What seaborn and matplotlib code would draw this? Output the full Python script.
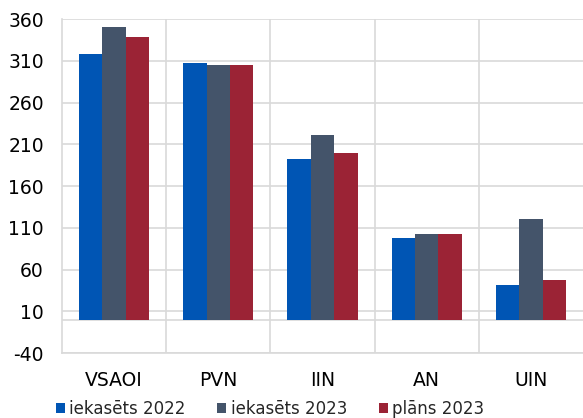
import pandas as pd
import matplotlib
matplotlib.use("Agg")
import matplotlib.pyplot as plt
import seaborn as sns
from matplotlib.ticker import FixedLocator

categories = ["VSAOI", "PVN", "IIN", "AN", "UIN"]
series = ["iekasēts 2022", "iekasēts 2023", "plāns 2023"]
vals_2022 = [318, 307, 192, 98, 42]
vals_2023 = [351, 305, 221, 103, 121]
plan_2023 = [338, 305, 200, 103, 47]
colors = ["#0055B4", "#44546A", "#9B2335"]
yticks = [-40, 10, 60, 110, 160, 210, 260, 310, 360]

df = pd.DataFrame({
    "cat": categories * 3,
    "series": [s for s in series for _ in categories],
    "value": vals_2022 + vals_2023 + plan_2023,
})

sns.set_theme(style="white")
plt.rcParams["font.family"] = ["DejaVu Sans"]
plt.rcParams["axes.unicode_minus"] = False

fig = plt.figure(figsize=(5.83, 4.18), dpi=100)
ax = fig.add_axes([0.1063, 0.1555, 0.8937, 0.799])

sns.barplot(data=df, x="cat", y="value", hue="series", palette=colors,
            width=0.675, gap=0, ax=ax, legend=True, saturation=1,
            edgecolor="none", linewidth=0)

ax.set_ylim(-40, 360)
ax.set_xlim(-0.5, 4.5)
ax.set_yticks(yticks)
ax.xaxis.set_minor_locator(FixedLocator([0.5, 1.5, 2.5, 3.5]))
ax.grid(axis="y", color="#D9D9D9", linewidth=1.2)
ax.grid(axis="x", which="minor", color="#D9D9D9", linewidth=1.2)
ax.axhline(0, color="#D9D9D9", linewidth=1.2, zorder=0.5)
ax.set_axisbelow(True)
for side in ["top", "right"]:
    ax.spines[side].set_visible(False)
for side in ["left", "bottom"]:
    ax.spines[side].set_color("#D9D9D9")
    ax.spines[side].set_linewidth(1.2)
ax.tick_params(axis="both", which="both", length=0, labelsize=13.5, colors="#000000")
ax.tick_params(axis="x", pad=13)
ax.tick_params(axis="y", pad=13)
ax.set_xlabel("")
ax.set_ylabel("")

handles, labels = ax.get_legend_handles_labels()
ax.get_legend().remove()
fig.legend(handles, labels, loc="lower center", bbox_to_anchor=(0.463, -0.035),
           ncol=3, frameon=False, fontsize=12, handlelength=0.55, handleheight=0.55,
           handletextpad=0.25, columnspacing=1.9)

fig.savefig("out.png", dpi=100)
